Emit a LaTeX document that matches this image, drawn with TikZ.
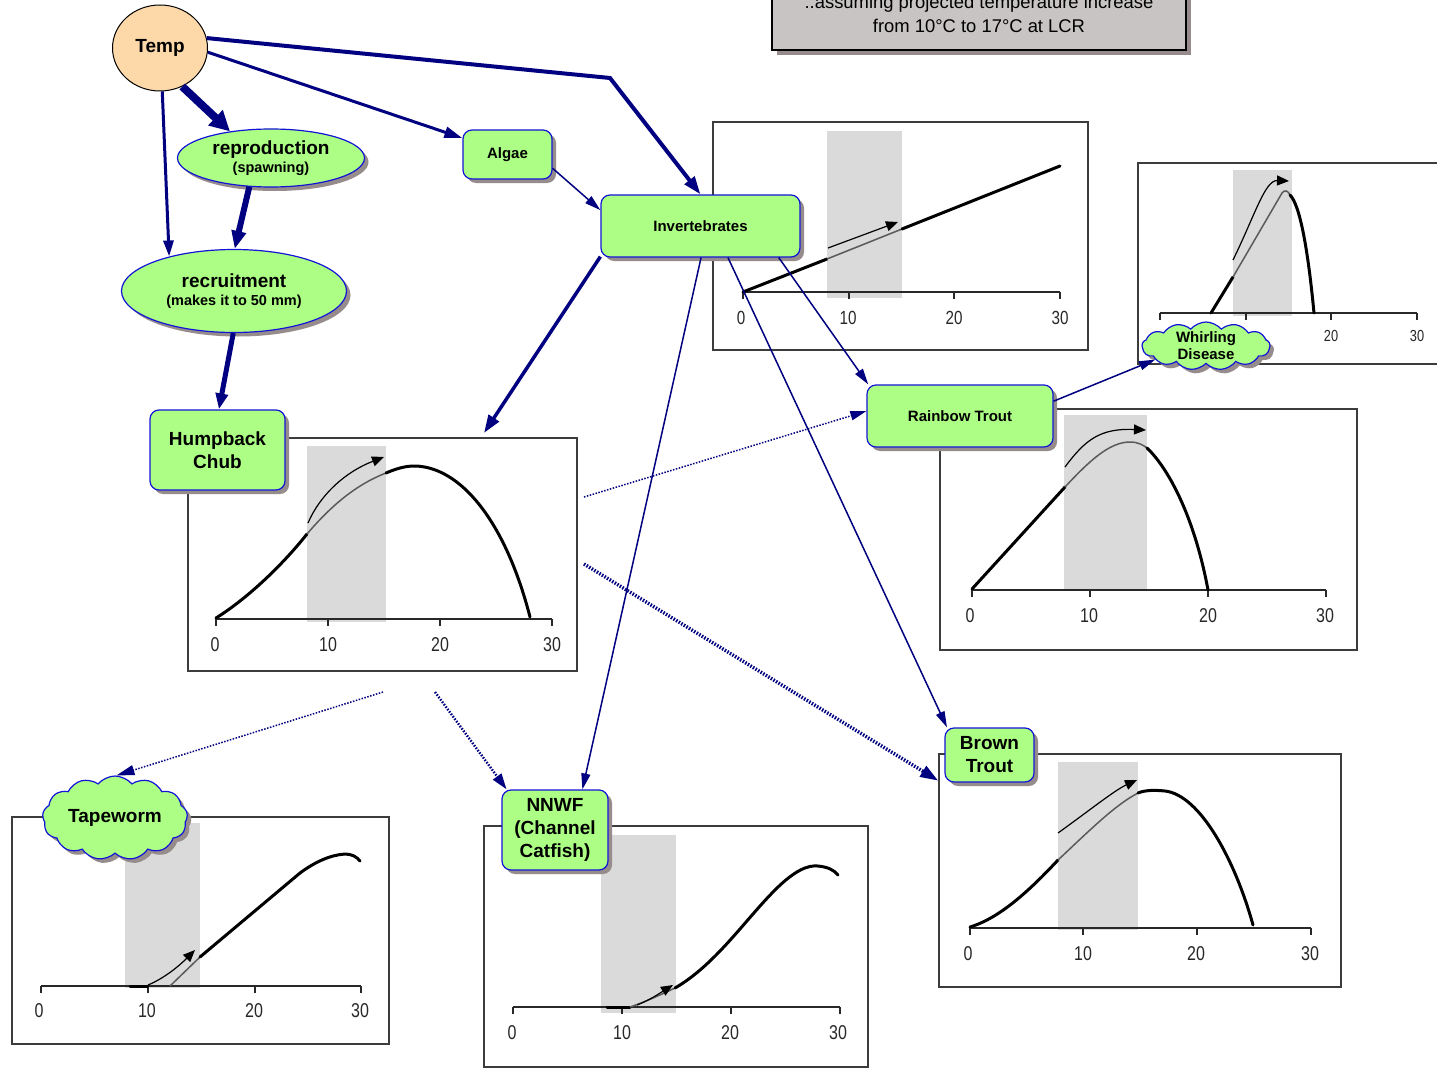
\documentclass[tikz,border=0pt]{standalone}
\usepackage{fontspec}
\setmainfont{Liberation Sans}
\newfontfamily\axisfont[FakeStretch=0.8]{Liberation Sans}
\usetikzlibrary{positioning, shapes, shadows, arrows.meta}

\definecolor{nodegreen}{RGB}{172,255,132}
\definecolor{nodeblue}{RGB}{20,20,215}
\definecolor{linknavy}{RGB}{0,0,128}
\definecolor{shadowgray}{RGB}{150,140,140}
\definecolor{tempfill}{RGB}{253,217,170}
\definecolor{boxgray}{RGB}{200,196,196}
\definecolor{bandgray}{RGB}{218,218,218}
\definecolor{framegray}{RGB}{60,60,60}
\definecolor{axisgray}{RGB}{40,40,40}
\definecolor{curvegray}{RGB}{90,90,90}

\tikzset{
  factor/.style={rounded corners=9pt, draw=nodeblue, line width=1.2pt, fill=nodegreen, inner sep=0pt, align=center,
    font=\bfseries\fontsize{19}{23}\selectfont,
    drop shadow={shadow xshift=4pt, shadow yshift=-4pt, fill=shadowgray, opacity=1}},
  smallfactor/.style={factor, font=\bfseries\fontsize{15}{17}\selectfont},
  stage/.style={ellipse, draw=nodeblue, line width=1.2pt, fill=nodegreen, inner sep=0pt, align=center,
    font=\bfseries\fontsize{19}{18}\selectfont,
    drop shadow={shadow xshift=4pt, shadow yshift=-4pt, fill=shadowgray, opacity=1}},
  pest/.style={cloud, cloud puffs=13, cloud puff arc=100, cloud ignores aspect, draw=nodeblue, line width=1.2pt, fill=nodegreen, inner sep=0pt,
    drop shadow={shadow xshift=4pt, shadow yshift=-4pt, fill=shadowgray, opacity=1}},
  pestname/.style={font=\bfseries\fontsize{#1}{17}\selectfont, align=center, inner sep=0pt},
  chart/.style={draw=framegray, line width=1.5pt, fill=white, inner sep=0pt},
  band/.style={fill=bandgray},
  axisline/.style={draw=axisgray, line width=1.5pt},
  ticklabel/.style={font=\axisfont\fontsize{20}{20}\selectfont, text=axisgray, inner sep=0pt},
  oldcurve/.style={line width=3pt, line cap=round},
  newcurve/.style={line width=1.5pt, draw=curvegray},
  shiftarrow/.style={line width=1.2pt, -{Triangle[length=12pt,width=10pt]}},
  link/.style={draw=linknavy, line width=1.5pt, -{Triangle[length=16pt,width=9pt]}},
  guess/.style={link, dash pattern=on 1.5pt off 1.5pt}
}

\begin{document}
\begin{tikzpicture}[x=1pt, y=-1pt]
\useasboundingbox (0,0) rectangle (1437,1070);
\clip (0,0) rectangle (1437,1070);
\fill[white] (0,0) rectangle (1437,1070);

% note at the top
\node[draw=black, line width=1.5pt, fill=boxgray, minimum width=414pt, minimum height=72pt, align=center,
  font=\fontsize{18.4}{24}\selectfont,
  drop shadow={shadow xshift=5pt, shadow yshift=-5pt, fill=shadowgray, opacity=1}] (note) at (979,14)
  {..assuming projected temperature increase\\from 10°C to 17°C at LCR};

% invertebrates chart
\node[chart, minimum width=375pt, minimum height=228pt] (invchart) at (900.5,236) {};
\fill[band] (827,131) rectangle (902,298);
\draw[axisline] (743,292) -- (1060,292) (743,292) -- (743,299) (849,292) -- (849,299) (954,292) -- (954,299) (1060,292) -- (1060,299);
\node[ticklabel, font=\axisfont\fontsize{19}{19}\selectfont] (invlab0) at (741,318) {0};
\node[ticklabel, font=\axisfont\fontsize{19}{19}\selectfont] (invlab10) at (848,318) {10};
\node[ticklabel, font=\axisfont\fontsize{19}{19}\selectfont] (invlab20) at (954,318) {20};
\node[ticklabel, font=\axisfont\fontsize{19}{19}\selectfont] (invlab30) at (1060,318) {30};
\draw[oldcurve] (743,292) -- (827,259);
\draw[newcurve] (827,259) -- (902,229);
\draw[oldcurve] (902,229) -- (1060,166);
\draw[shiftarrow] (828,248) -- (898,222);

% whirling disease chart
\node[chart, minimum width=342pt, minimum height=201pt] (wdchart) at (1309,263.5) {};
\fill[band] (1233,170) rectangle (1292,316);
\draw[axisline] (1160,313) -- (1417,313) (1160,313) -- (1160,320) (1246,313) -- (1246,320) (1331,313) -- (1331,320) (1417,313) -- (1417,320);
\node[ticklabel, font=\axisfont\fontsize{16}{16}\selectfont] (wdlab20) at (1331,336) {20};
\node[ticklabel, font=\axisfont\fontsize{16}{16}\selectfont] (wdlab30) at (1417,336) {30};
\draw[oldcurve] (1211,313) -- (1233,277);
\draw[newcurve] (1233,277) -- (1282,193) .. controls (1285,189) and (1288,191) .. (1290,195);
\draw[oldcurve] (1290,195) .. controls (1300,205) and (1308,250) .. (1314,313);
\draw[shiftarrow] (1233,260) .. controls (1255,215) and (1265,180) .. (1289,181);

% humpback chub chart
\node[chart, minimum width=389pt, minimum height=233pt] (hcchart) at (382.5,554.5) {};
\fill[band] (307,446) rectangle (386,622);
\draw[axisline] (216,619) -- (552,619) (216,619) -- (216,626) (328,619) -- (328,626) (440,619) -- (440,626) (552,619) -- (552,626);
\node[ticklabel] (hclab0) at (215,645) {0};
\node[ticklabel] (hclab10) at (328,645) {10};
\node[ticklabel] (hclab20) at (440,645) {20};
\node[ticklabel] (hclab30) at (552,645) {30};
\draw[oldcurve] (216,618) .. controls (245,600) and (280,568) .. (307,534);
\draw[newcurve] (307,534) .. controls (330,507) and (355,485) .. (386,473);
\draw[oldcurve] (386,473) .. controls (400,467) and (408,466) .. (415,466) .. controls (460,467) and (505,520) .. (530,617);
\draw[shiftarrow] (308,523) .. controls (320,495) and (345,472) .. (384,457);

% rainbow trout chart
\node[chart, minimum width=417pt, minimum height=241pt] (rtchart) at (1148.5,529.5) {};
\fill[band] (1064,415) rectangle (1147,590);
\draw[axisline] (972,590) -- (1326,590) (972,590) -- (972,597) (1090,590) -- (1090,597) (1208,590) -- (1208,597) (1326,590) -- (1326,597);
\node[ticklabel] (rtlab0) at (970,616) {0};
\node[ticklabel] (rtlab10) at (1089,616) {10};
\node[ticklabel] (rtlab20) at (1208,616) {20};
\node[ticklabel] (rtlab30) at (1325,616) {30};
\draw[oldcurve] (972,589) -- (1065,487);
\draw[newcurve] (1065,487) .. controls (1090,460) and (1110,442) .. (1130,442) .. controls (1138,442) and (1143,445) .. (1147,448);
\draw[oldcurve] (1147,448) .. controls (1170,470) and (1195,520) .. (1208,590);
\draw[shiftarrow] (1065,467) .. controls (1085,440) and (1100,428) .. (1146,430);

% brown trout chart
\node[chart, minimum width=402pt, minimum height=233pt] (btchart) at (1140,870.5) {};
\fill[band] (1058,762) rectangle (1138,930);
\draw[axisline] (970,928) -- (1311,928) (970,928) -- (970,935) (1083,928) -- (1083,935) (1197,928) -- (1197,935) (1311,928) -- (1311,935);
\node[ticklabel] (btlab0) at (968,954) {0};
\node[ticklabel] (btlab10) at (1083,954) {10};
\node[ticklabel] (btlab20) at (1196,954) {20};
\node[ticklabel] (btlab30) at (1310,954) {30};
\draw[oldcurve] (970,927) .. controls (1000,918) and (1030,890) .. (1058,860);
\draw[newcurve] (1058,860) .. controls (1090,830) and (1115,805) .. (1138,793);
\draw[oldcurve] (1138,793) .. controls (1145,790) and (1155,790) .. (1165,791) .. controls (1200,795) and (1235,860) .. (1253,925);
\draw[shiftarrow] (1058,833) .. controls (1090,810) and (1115,790) .. (1137,780);

% channel catfish chart
\node[chart, minimum width=384pt, minimum height=241pt] (nnchart) at (676,946.5) {};
\fill[band] (601,835) rectangle (676,1013);
\draw[axisline] (513,1007) -- (840,1007) (513,1007) -- (513,1014) (622,1007) -- (622,1014) (731,1007) -- (731,1014) (840,1007) -- (840,1014);
\node[ticklabel] (nnlab0) at (512,1033) {0};
\node[ticklabel] (nnlab10) at (622,1033) {10};
\node[ticklabel] (nnlab20) at (730,1033) {20};
\node[ticklabel] (nnlab30) at (838,1033) {30};
\draw[oldcurve] (607,1007) -- (630,1007);
\draw[newcurve] (630,1007) .. controls (645,1002) and (660,995) .. (675,988);
\draw[oldcurve] (675,988) .. controls (715,965) and (745,920) .. (775,890) .. controls (795,870) and (808,865) .. (818,866) .. controls (828,867) and (834,870) .. (838,875);
\draw[shiftarrow] (637,1005) .. controls (650,1000) and (660,993) .. (673,985);

% tapeworm chart
\node[chart, minimum width=377pt, minimum height=227pt] (twchart) at (200.5,930.5) {};
\fill[band] (125,823) rectangle (200,988);
\draw[axisline] (41,986) -- (361,986) (41,986) -- (41,993) (148,986) -- (148,993) (255,986) -- (255,993) (361,986) -- (361,993);
\node[ticklabel] (twlab0) at (39,1011) {0};
\node[ticklabel] (twlab10) at (147,1011) {10};
\node[ticklabel] (twlab20) at (254,1011) {20};
\node[ticklabel] (twlab30) at (360,1011) {30};
\draw[oldcurve] (130,986) -- (148,986);
\draw[newcurve] (170,986) -- (200,957);
\draw[oldcurve] (200,957) -- (300,873) .. controls (315,862) and (330,855) .. (345,854) .. controls (352,854) and (357,857) .. (360,861);
\draw[shiftarrow] (148,985) .. controls (165,978) and (180,965) .. (195,950);

% factors
\node[ellipse, draw=black, line width=1pt, fill=tempfill, minimum width=95pt, minimum height=86pt, inner sep=0pt,
  font=\bfseries\fontsize{19}{23}\selectfont] (temp) at (160,48) {Temp};
\node[stage, minimum width=187pt, minimum height=58pt] (repro) at (271,158) {reproduction\\{\fontsize{14.5}{17}\selectfont (spawning)}};
\node[stage, minimum width=225pt, minimum height=83pt] (recruit) at (234,291) {recruitment\\{\fontsize{14.5}{17}\selectfont (makes it to 50 mm)}};
\node[smallfactor, minimum width=89pt, minimum height=49pt] (algae) at (507.5,154.5) {Algae};
\node[smallfactor, minimum width=199pt, minimum height=62pt] (invert) at (700.5,226) {Invertebrates};
\node[factor, minimum width=135pt, minimum height=80pt] (humpback) at (217.5,450) {Humpback\\Chub};
\node[smallfactor, minimum width=186pt, minimum height=62pt] (rainbow) at (960,416) {Rainbow Trout};
\node[factor, minimum width=106pt, minimum height=80pt] (nnwf) at (555,830) {NNWF\\(Channel\\Catfish)};
\node[factor, minimum width=89pt, minimum height=54pt] (brown) at (989.5,755) {Brown\\Trout};
\node[pest, minimum width=128pt, minimum height=48pt] (whirling) at (1206,346) {};
\node[pestname=15] (whirlingname) at (whirling.center) {Whirling\\Disease};
\node[pest, minimum width=145pt, minimum height=84pt] (tapeworm) at (115,818) {};
\node[pestname=19] (tapewormname) at (tapeworm.center) {Tapeworm};

% free ends of the links
\coordinate (invbend) at (610,78);
\coordinate (hcin) at (484,433);
\coordinate (hcright1) at (584,497);
\coordinate (hcright2) at (584,564);
\coordinate (hcbelow1) at (383,692);
\coordinate (hcbelow2) at (435,692);

% links
\draw[link, line width=8pt, -{Triangle[length=20pt,width=20pt]}] (temp.-60) -- (repro.147);
\draw[link, line width=3pt, -{Triangle[length=16pt,width=10pt]}] (temp.-87) -- (recruit.152);
\draw[link, line width=6pt, -{Triangle[length=18pt,width=14pt]}] (repro.-127) -- (recruit.89);
\draw[link, line width=5pt, -{Triangle[length=16pt,width=12pt]}] (recruit.-91) -- (humpback.88);
\draw[link, line width=3pt, -{Triangle[length=18pt,width=11pt]}] (temp.-5) -- (algae.160);
\draw[link, line width=4pt, -{Triangle[length=18pt,width=12pt]}] (temp.12) -- (invbend) -- (invert.north);
\draw[link] (algae.-17) -- (invert.171);
\draw[link, line width=3.5pt, -{Triangle[length=18pt,width=12pt]}] (invert.-163) -- (hcin);
\draw[link] (invert.-89) -- (nnwf.56);
\draw[link] (invert.-49.5) -- (brown.147);
\draw[link] (invert.-22) -- (rainbow.161);
\draw[link] (rainbow.9) -- (whirling.-165);
\draw[guess] (hcright1) -- (rainbow.177);
\draw[guess, line width=3.5pt, -{Triangle[length=18pt,width=12pt]}] (hcright2) -- (btchart.156);
\draw[guess, -{Triangle[length=18pt,width=10pt]}] (hcbelow1) -- (tapeworm.88);
\draw[guess, line width=2.5pt, -{Triangle[length=16pt,width=10pt]}] (hcbelow2) -- (nnwf.140);
\end{tikzpicture}
\end{document}
